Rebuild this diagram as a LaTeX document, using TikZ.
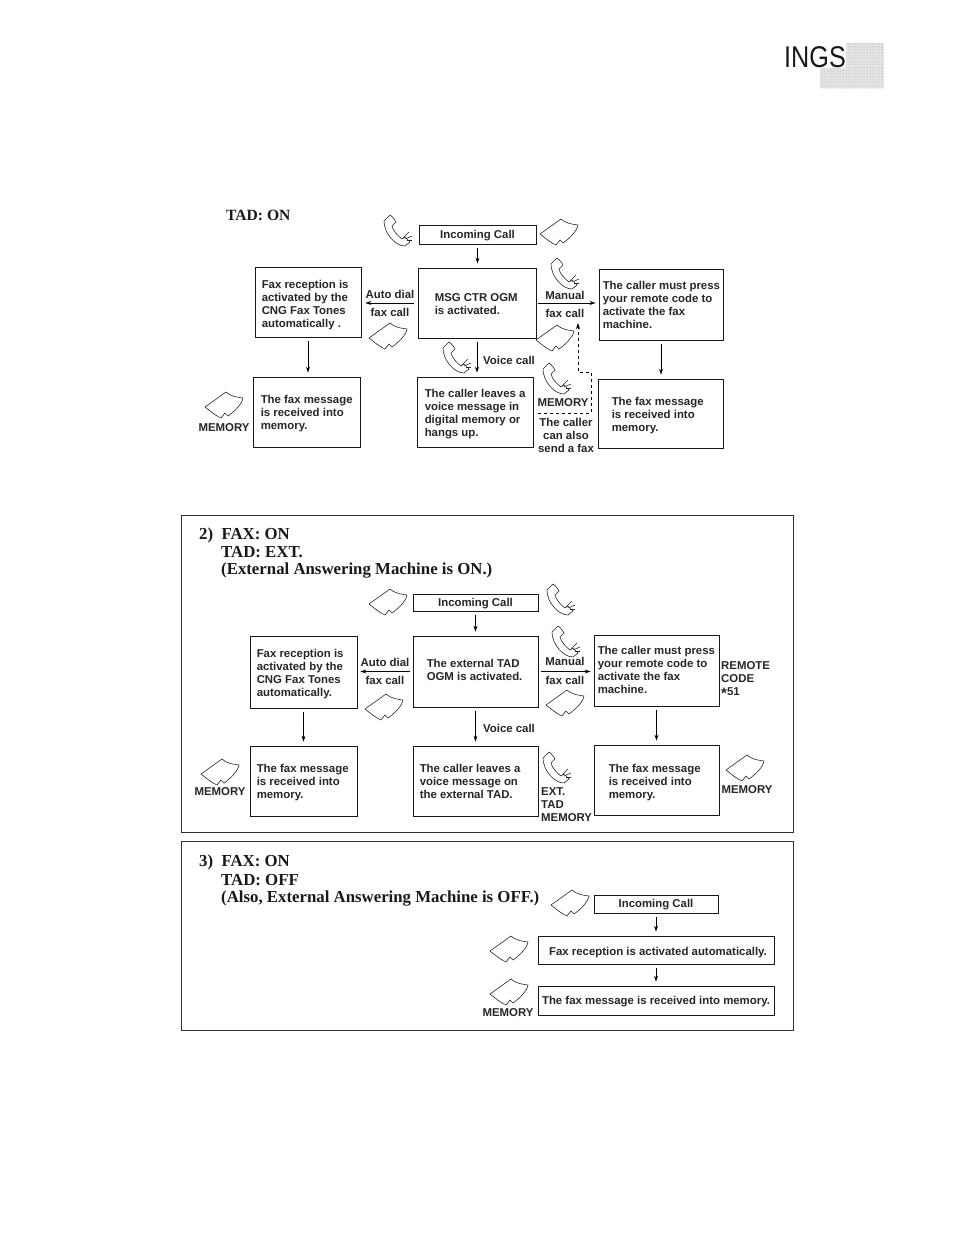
\documentclass[tikz,border=0pt]{standalone}
\usepackage{fontspec}
\setmainfont{Liberation Sans}
\newfontfamily\headfont{Liberation Serif}
\usetikzlibrary{arrows.meta,patterns}
\tikzset{
    flowbox/.style={draw=black!90, line width=0.9pt, inner sep=0pt},
    boxtext/.style={inner sep=0pt, yshift=-2pt, align=left, font=\fontsize{11.4}{13}\selectfont\bfseries, text=black!85},
    smalltext/.style={inner sep=0pt, align=center, font=\fontsize{11.4}{13}\selectfont\bfseries, text=black!85},
    headtext/.style={inner sep=0pt, yshift=-1.5pt, anchor=west, font=\fontsize{16.8}{18}\selectfont\headfont\bfseries, text=black!90},
    flow/.style={-{Stealth[length=6pt,width=4pt]}, line width=0.7pt, shorten <=4pt, shorten >=4pt},
    frame/.style={draw=black!80, line width=0.9pt},
    pics/faxsheet/.style={code={
        \draw[line width=0.6pt, black!85, fill=white] (-19,1) -- (2,-14) .. controls (8,-9) and (13,-9) .. (19,-8)
            .. controls (18,-2) and (11,5) .. (4,10) -- (1,7) -- (-3,12) .. controls (-8,10) and (-14,5) .. (-19,1) -- cycle;
    }},
    pics/handset/.style={code={
        \draw[line width=0.6pt, black!85, fill=white] (-13,-10) -- (-7,-16) .. controls (-5,-15) and (-2,-11) .. (-1,-9)
            -- (-5,-5) .. controls (-4,0) and (1,5) .. (5,8) -- (8,6) -- (13,11) -- (8,15)
            .. controls (-2,15) and (-13,2) .. (-13,-10) -- cycle;
        \draw[line width=0.6pt, black!85] (6,7) -- (12,1);
        \draw[line width=0.6pt, black!85] (8,8) -- (15,5);
        \draw[line width=0.6pt, black!85] (10,9) -- (15,9);
    }}
}
\begin{document}
\begin{tikzpicture}[x=1pt, y=-1pt]
    \useasboundingbox (0,0) rectangle (954,1235);

    % page tab
    \fill[black!10] (846,43) rectangle (884,88);
    \fill[black!10] (820,68) rectangle (846,88);
    \fill[pattern=dots, pattern color=black!40] (846,43) rectangle (884,88);
    \fill[pattern=dots, pattern color=black!40] (820,68) rectangle (846,88);
    \node[inner sep=0pt, xscale=0.84, font=\fontsize{30}{30}\selectfont, text=black!90] (tabtext) at (815,57) {INGS};

    % first chart
    \node[headtext, font=\fontsize{15.6}{18}\selectfont\headfont\bfseries] (tadone) at (226,214) {TAD: ON};
    \node[flowbox, minimum width=117pt, minimum height=19pt] (callone) at (477.5,234.5) {};
    \node[smalltext, yshift=-1pt] (callonetext) at (callone) {Incoming Call};
    \node[flowbox, minimum width=118pt, minimum height=70pt] (msgone) at (477,303) {};
    \node[boxtext, right=17pt, yshift=1pt] (msgonetext) at (msgone.west) {MSG CTR OGM\\is activated.};
    \node[flowbox, minimum width=106pt, minimum height=70pt] (faxone) at (308,302) {};
    \node[boxtext, right=7pt, yshift=-1pt] (faxonetext) at (faxone.west) {Fax reception is\\activated by the\\CNG Fax Tones\\automatically .};
    \node[flowbox, minimum width=124pt, minimum height=71pt] (codeone) at (661,304.5) {};
    \node[boxtext, right=4pt, yshift=2pt] (codeonetext) at (codeone.west) {The caller must press\\your remote code to\\activate the fax\\machine.};
    \node[flowbox, minimum width=107pt, minimum height=70pt] (memleftone) at (306.5,412) {};
    \node[boxtext, right=8pt] (memleftonetext) at (memleftone.west) {The fax message\\is received into\\memory.};
    \node[flowbox, minimum width=116pt, minimum height=70pt] (voiceone) at (475,412) {};
    \node[boxtext, right=8pt] (voiceonetext) at (voiceone.west) {The caller leaves a\\voice message in\\digital memory or\\hangs up.};
    \node[flowbox, minimum width=125pt, minimum height=69pt] (memrightone) at (660.5,413.5) {};
    \node[boxtext, right=14pt] (memrightonetext) at (memrightone.west) {The fax message\\is received into\\memory.};
    % arrows
    \draw[flow] (callone.south) -- (callone.south |- msgone.north);
    \draw[flow] (msgone.west) -- (msgone.west -| faxone.east);
    \draw[flow, shorten <=2pt, shorten >=3pt] (msgone.east) -- (msgone.east -| codeone.west);
    \draw[flow] (faxone.south) -- (faxone.south |- memleftone.north);
    \draw[flow] (msgone.south) -- (msgone.south |- voiceone.north);
    \draw[flow] (codeone.south) -- (codeone.south |- memrightone.north);
    % sheets and handsets
    \pic at (559,233) {faxsheet};
    \pic at (388,337) {faxsheet};
    \pic at (555,339) {faxsheet};
    \pic at (224,406) {faxsheet};
    \pic at (397,231) {handset};
    \pic at (456,358) {handset};
    \pic at (564,274) {handset};
    \pic at (556,379) {handset};
    % labels
    \node[smalltext] (autoone) at (390,294) {Auto dial};
    \node[smalltext] (autocallone) at (390,312) {fax call};
    \node[smalltext] (manualone) at (565,295) {Manual};
    \node[smalltext] (manualcallone) at (565,313) {fax call};
    \node[smalltext] (voicecallone) at (509,360) {Voice call};
    \node[smalltext] (memphoneone) at (563,403) {MEMORY};
    \node[smalltext] (alsoone) at (566,435) {The caller\\can also\\send a fax};
    \node[smalltext] (memfaxone) at (224,428) {MEMORY};
    % dashed way back
    \coordinate (dashend) at (578,323);
    \coordinate (dashstart) at (538,413);
    \draw[-{Stealth[length=6pt,width=4pt]}, dashed, line width=0.7pt] (dashstart) -- (591,413) -- (591,372) -- (578,372) -- (dashend);

    % second chart
    \node[frame, minimum width=612pt, minimum height=317pt, inner sep=0pt] (frametwo) at (487,673.5) {};
    \node[headtext] (headtwoa) at (199,534) {2)\ \ FAX: ON};
    \node[headtext] (headtwob) at (221,551) {TAD: EXT.};
    \node[headtext] (headtwoc) at (221,569) {(External Answering Machine is ON.)};
    \node[flowbox, minimum width=125pt, minimum height=17pt] (calltwo) at (475.5,602.5) {};
    \node[smalltext, yshift=-1pt] (calltwotext) at (calltwo) {Incoming Call};
    \node[flowbox, minimum width=125pt, minimum height=71pt] (msgtwo) at (475.5,671.5) {};
    \node[boxtext, right=14pt, yshift=4pt] (msgtwotext) at (msgtwo.west) {The external TAD\\OGM is activated.};
    \node[flowbox, minimum width=107pt, minimum height=72pt] (faxtwo) at (303.5,672) {};
    \node[boxtext, right=7pt] (faxtwotext) at (faxtwo.west) {Fax reception is\\activated by the\\CNG Fax Tones\\automatically.};
    \node[flowbox, minimum width=125pt, minimum height=71pt] (codetwo) at (656.5,670.5) {};
    \node[boxtext, right=4pt, yshift=3pt] (codetwotext) at (codetwo.west) {The caller must press\\your remote code to\\activate the fax\\machine.};
    \node[flowbox, minimum width=107pt, minimum height=70pt] (memlefttwo) at (303.5,781) {};
    \node[boxtext, right=7pt] (memlefttwotext) at (memlefttwo.west) {The fax message\\is received into\\memory.};
    \node[flowbox, minimum width=125pt, minimum height=70pt] (voicetwo) at (475.5,781) {};
    \node[boxtext, right=7pt, yshift=2pt] (voicetwotext) at (voicetwo.west) {The caller leaves a\\voice message on\\the external TAD.};
    \node[flowbox, minimum width=125pt, minimum height=70pt] (memrighttwo) at (656.5,780) {};
    \node[boxtext, right=15pt, yshift=-1pt] (memrighttwotext) at (memrighttwo.west) {The fax message\\is received into\\memory.};
    % arrows
    \draw[flow] (calltwo.south) -- (calltwo.south |- msgtwo.north);
    \draw[flow, shorten <=3pt, shorten >=3pt] (msgtwo.west) -- (msgtwo.west -| faxtwo.east);
    \draw[flow, shorten <=3pt, shorten >=3pt] (msgtwo.east) -- (msgtwo.east -| codetwo.west);
    \draw[flow] (faxtwo.south) -- (faxtwo.south |- memlefttwo.north);
    \draw[flow] (msgtwo.south) -- (msgtwo.south |- voicetwo.north);
    \draw[flow] (codetwo.south) -- (codetwo.south |- memrighttwo.north);
    % sheets and handsets
    \pic at (388,603) {faxsheet};
    \pic at (384,708) {faxsheet};
    \pic at (565,704) {faxsheet};
    \pic at (220,773) {faxsheet};
    \pic at (745,769) {faxsheet};
    \pic at (560,600) {handset};
    \pic at (565,642) {handset};
    \pic at (556,768) {handset};
    % labels
    \node[smalltext] (autotwo) at (385,662) {Auto dial};
    \node[smalltext] (autocalltwo) at (385,680) {fax call};
    \node[smalltext] (manualtwo) at (565,661) {Manual};
    \node[smalltext] (manualcalltwo) at (565,680) {fax call};
    \node[smalltext] (voicecalltwo) at (509,728) {Voice call};
    \node[boxtext, anchor=west] (exttwo) at (541,803) {EXT.\\TAD\\MEMORY};
    \node[boxtext, anchor=west] (remotetwo) at (721,678) {REMOTE\\CODE\\\raisebox{-2.5pt}{\fontsize{15}{13}\selectfont *}51};
    \node[smalltext] (memfaxtwo) at (220,792) {MEMORY};
    \node[smalltext] (memfaxtworight) at (747,790) {MEMORY};

    % third chart
    \node[frame, minimum width=612pt, minimum height=189pt, inner sep=0pt] (framethree) at (487,935.5) {};
    \node[headtext] (headthreea) at (199,861) {3)\ \ FAX: ON};
    \node[headtext] (headthreeb) at (221,879) {TAD: OFF};
    \node[headtext] (headthreec) at (221,897) {(Also, External Answering Machine is OFF.)};
    \node[flowbox, minimum width=124pt, minimum height=18pt] (callthree) at (656,904) {};
    \node[smalltext, yshift=-1pt] (callthreetext) at (callthree) {Incoming Call};
    \node[flowbox, minimum width=236pt, minimum height=28pt] (faxthree) at (656,950) {};
    \node[smalltext, yshift=-2pt] (faxthreetext) at (658,951) {Fax reception is activated automatically.};
    \node[flowbox, minimum width=236pt, minimum height=29pt] (memthree) at (656,1000.5) {};
    \node[smalltext, yshift=-1pt] (memthreetext) at (memthree) {The fax message is received into memory.};
    \draw[flow] (callthree.south) -- (callthree.south |- faxthree.north);
    \draw[flow] (faxthree.south) -- (faxthree.south |- memthree.north);
    \pic at (570,904) {faxsheet};
    \pic at (509,950) {faxsheet};
    \pic at (509,993) {faxsheet};
    \node[smalltext] (memfaxthree) at (508,1013) {MEMORY};
\end{tikzpicture}
\end{document}
